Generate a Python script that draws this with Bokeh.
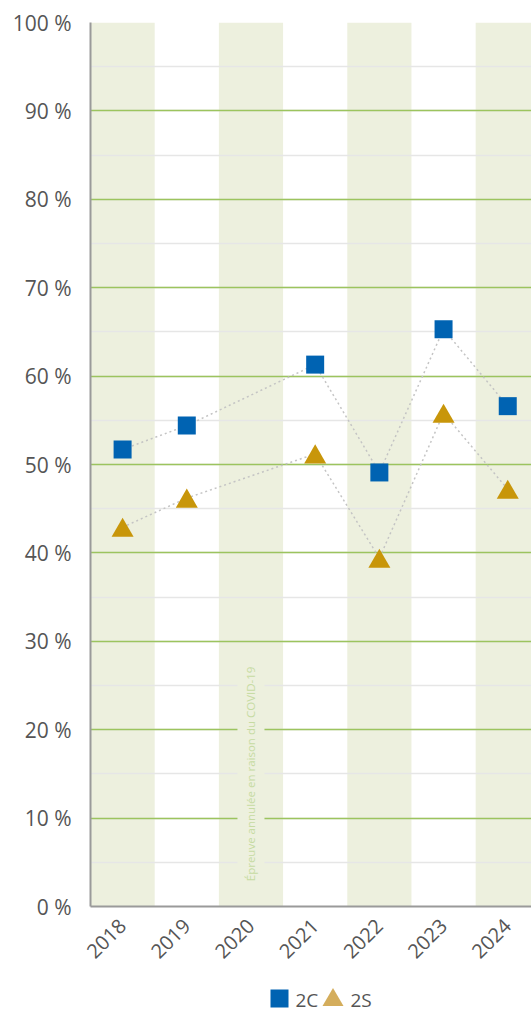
import math
from bokeh.plotting import figure
from bokeh.layouts import column
from bokeh.models import (Range1d, FixedTicker, SingleIntervalTicker, ColumnDataSource, Label)
from bokeh.transform import dodge
from bokeh.core.properties import value
from bokeh.embed import file_html
from bokeh.resources import INLINE

# ---------------- data ----------------
years = ["2018", "2019", "2020", "2021", "2022", "2023", "2024"]
series_2c = [51.7, 54.4, None, 61.3, 49.1, 65.3, 56.6]
series_2s = [42.9, 46.2, None, 51.2, 39.4, 55.8, 47.2]
y_ticks = [0, 10, 20, 30, 40, 50, 60, 70, 80, 90, 100]
y_tick_labels = [f"{t} %" for t in y_ticks]
legend_labels = ["2C", "2S"]
note_text = "Épreuve annulée en raison du COVID-19"
note_year = "2020"

# ---------------- styles ----------------
FONT = "Open Sans"
TXT = "#555555"
BAND = "#edf0de"
BLUE = "#0063b2"
GOLD = "#c8960a"
GOLD_LEG = "#d4ad5c"

xs = list(range(len(years)))

fig = figure(width=531, height=976,
             x_range=Range1d(-0.5, 6.37), y_range=Range1d(0, 100),
             output_backend="svg", toolbar_location=None,
             min_border_left=90, min_border_right=0, min_border_top=22, min_border_bottom=70,
             background_fill_color="white", border_fill_color="white",
             outline_line_color=None)

# alternating bands
band_idx = [i for i in xs if i % 2 == 0]
fig.quad(left=[i - 0.5 for i in band_idx], right=[i + 0.5 for i in band_idx],
         bottom=y_ticks[0], top=y_ticks[-1], fill_color=BAND, line_color=None, level="image")

# grid
fig.xgrid.visible = False
fig.ygrid.ticker = SingleIntervalTicker(interval=10, num_minor_ticks=2)
fig.ygrid.grid_line_color = "#9cc45e"
fig.ygrid.grid_line_width = 1.5
fig.ygrid.minor_grid_line_color = "#e6e6e6"
fig.ygrid.minor_grid_line_width = 1.5

# y axis
fig.yaxis.ticker = FixedTicker(ticks=y_ticks)
fig.yaxis.major_label_overrides = {t: l for t, l in zip(y_ticks, y_tick_labels)}
fig.yaxis.axis_line_color = "#9a9a9a"
fig.yaxis.axis_line_width = 2
fig.yaxis.major_tick_out = 0
fig.yaxis.major_tick_in = 0
fig.yaxis.minor_tick_out = 0
fig.yaxis.minor_tick_in = 0
fig.yaxis.major_label_standoff = 19
fig.yaxis.major_label_text_font = FONT
fig.yaxis.major_label_text_font_size = "21px"
fig.yaxis.major_label_text_color = TXT

# x axis
fig.xaxis.ticker = FixedTicker(ticks=xs)
fig.xaxis.major_label_overrides = {i: y for i, y in zip(xs, years)}
fig.xaxis.major_label_orientation = math.pi / 4
fig.xaxis.axis_line_color = "#9a9a9a"
fig.xaxis.axis_line_width = 2
fig.xaxis.major_tick_out = 0
fig.xaxis.major_tick_in = 0
fig.xaxis.minor_tick_out = 0
fig.xaxis.minor_tick_in = 0
fig.xaxis.major_label_standoff = 16
fig.xaxis.major_label_text_font = FONT
fig.xaxis.major_label_text_font_size = "20px"
fig.xaxis.major_label_text_color = TXT

# series
x2c = [x for x, v in zip(xs, series_2c) if v is not None]
v2c = [v for v in series_2c if v is not None]
x2s = [x for x, v in zip(xs, series_2s) if v is not None]
v2s = [v for v in series_2s if v is not None]

src_c = ColumnDataSource(dict(x=x2c, y=v2c))
src_s = ColumnDataSource(dict(x=x2s, y=v2s))

fig.line("x", "y", source=src_c, line_color="#c4c4c4", line_dash="2 3", line_width=1.5)
fig.line("x", "y", source=src_s, line_color="#c4c4c4", line_dash="2 3", line_width=1.5)
fig.scatter("x", "y", source=src_c, marker="square", size=18, fill_color=BLUE, line_color=None)
fig.scatter("x", dodge("y", -0.36), source=src_s, marker="triangle", size=22,
            fill_color=GOLD, line_color=None)

# note
note = Label(x=years.index(note_year), y=15, text=note_text, angle=math.pi / 2,
             text_align="center", text_baseline="middle", text_color="#c6dba2",
             text_font=FONT, text_font_size="11.5px",
             background_fill_color=BAND, padding=6)
fig.add_layout(note)

# legend strip below the chart (pixel-unit canvas; its frame is aligned with the chart's frame)
leg_fig = figure(width=531, height=34, x_range=Range1d(90, 531), y_range=Range1d(0, 34),
                 output_backend="svg", toolbar_location=None,
                 x_axis_location=None, y_axis_location=None,
                 min_border_left=90, min_border_right=0, min_border_top=0, min_border_bottom=0,
                 background_fill_color="white", border_fill_color="white",
                 outline_line_color=None)
leg_fig.xgrid.visible = False
leg_fig.ygrid.visible = False
leg_fig.scatter(x=[279], y=[12], marker="square", size=18, fill_color=BLUE, line_color=None)
leg_fig.scatter(x=[332.5], y=[10.5], marker="triangle", size=21, fill_color=GOLD_LEG, line_color=None)
leg_fig.text(x=[295, 350], y=[11, 11], text=legend_labels,
             text_font=value(FONT), text_font_size="19px", text_color=TXT,
             text_align="left", text_baseline="middle")

p = column(fig, leg_fig, spacing=0)

open("out.html", "w").write(file_html(p, INLINE))
